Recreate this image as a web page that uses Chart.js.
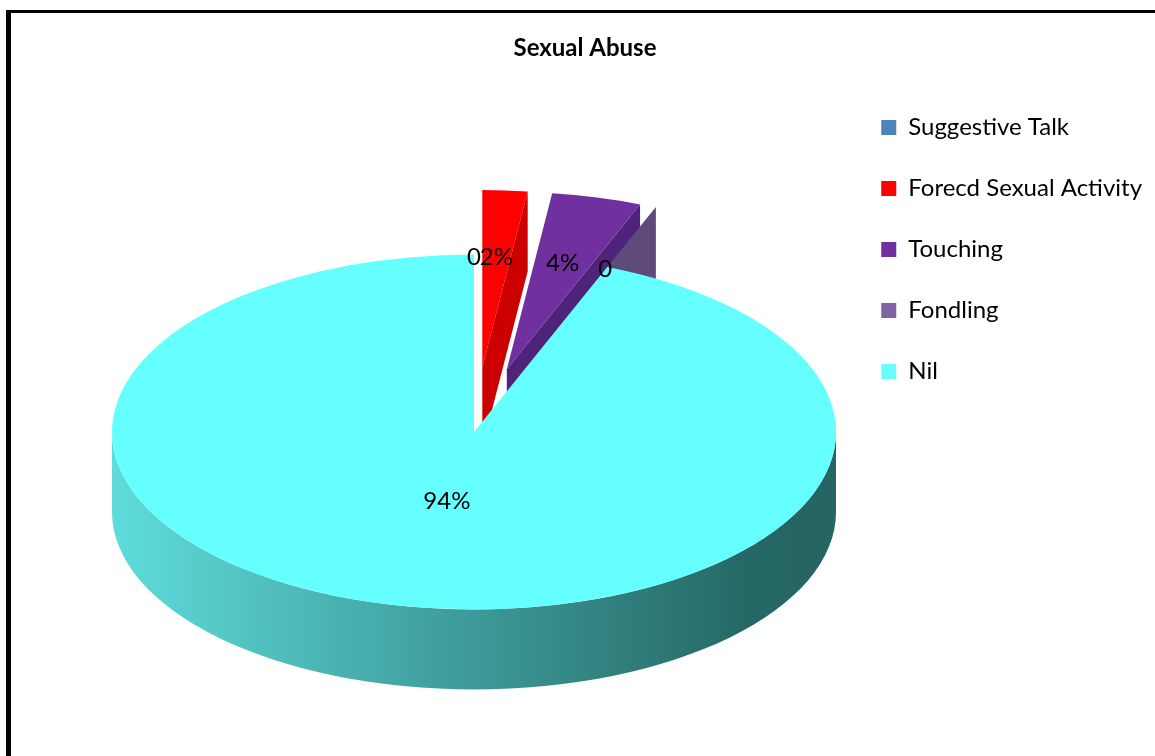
<!DOCTYPE html>
<html>
<head>
<meta charset="utf-8">
<title>Sexual Abuse</title>
<script src="https://cdn.jsdelivr.net/npm/chart.js@4.4.1/dist/chart.umd.min.js"></script>
<style>
  html, body { margin: 0; padding: 0; background: #fff; }
  #wrap { position: relative; width: 1155px; height: 756px; overflow: hidden; }
  #pieChart { position: absolute; left: 0; top: 0; }
  #frame {
    position: absolute; left: 6px; top: 10px; width: 1200px; height: 800px;
    border-left: 5px solid #000; border-top: 3px solid #000; pointer-events: none;
  }
</style>
</head>
<body>
<div id="wrap">
  <canvas id="pieChart" width="1155" height="756"></canvas>
  <div id="frame"></div>
</div>
<script>
// data (percent of respondents)
const categories = ["Suggestive Talk", "Forecd Sexual Activity", "Touching", "Fondling", "Nil"];
const percentages = [0, 2, 4, 0, 94];

// slice colours: top face and cut/side face
const sliceColors = ["#4f81bd", "#ff0000", "#7030a0", "#8064a2", "#66ffff"];
const sideColors = ["#3d6592", "#cc0000", "#4f2379", "#5e4b7c", null];
// how far each slice is pulled out of the pie (px, before tilt)
const explodeBy = [132, 132, 132, 132, 0];

Chart.defaults.font.family = "Lato, 'Open Sans', sans-serif";
Chart.defaults.color = "#000";

function midAngle(arc) {
  return (arc.startAngle + arc.endAngle) / 2;
}

function labelText(i) {
  const total = percentages.reduce((a, b) => a + b, 0);
  const v = percentages[i];
  return v === 0 ? "0" : Math.round((v / total) * 100) + "%";
}

// draws the pie tilted with a visible thickness, then the data labels
const pie3d = {
  id: "pie3d",
  beforeDatasetsDraw(chart, args, opts) {
    const ctx = chart.ctx;
    const dpr = chart.currentDevicePixelRatio || 1;
    const arcs = chart.getDatasetMeta(0).data;
    const explode = chart.data.datasets[0].explode;
    const x0 = arcs[0].x;
    const y0 = arcs[0].y;
    const R = arcs[0].outerRadius;
    const k = opts.tilt;
    const dk = opts.depth / k;

    // back slices first
    const order = arcs.map((a, i) => i).sort(
      (a, b) => Math.sin(midAngle(arcs[a])) - Math.sin(midAngle(arcs[b]))
    );

    const grad = ctx.createLinearGradient(x0 - R, 0, x0 + R, 0);
    grad.addColorStop(0, "#5fdcdc");
    grad.addColorStop(0.45, "#40a09e");
    grad.addColorStop(0.88, "#256866");
    grad.addColorStop(1, "#256563");

    ctx.save();
    ctx.setTransform(dpr, 0, 0, dpr * k, dpr * (opts.centerX - x0), dpr * (opts.centerY - k * y0));

    order.forEach((i) => {
      const arc = arcs[i];
      const m = midAngle(arc);
      const e = explode[i] || 0;
      const cx = x0 + Math.cos(m) * e;
      const cy = y0 + Math.sin(m) * e;
      ctx.fillStyle = sideColors[i] || grad;

      // cut faces that turn towards the viewer
      const faces = [];
      if (Math.cos(arc.endAngle) > 1e-6) faces.push(arc.endAngle);
      if (-Math.cos(arc.startAngle) > 1e-6) faces.push(arc.startAngle);
      faces.forEach((a) => {
        const px = cx + R * Math.cos(a);
        const py = cy + R * Math.sin(a);
        ctx.beginPath();
        ctx.moveTo(cx, cy);
        ctx.lineTo(px, py);
        ctx.lineTo(px, py + dk);
        ctx.lineTo(cx, cy + dk);
        ctx.closePath();
        ctx.fill();
      });

      // front part of the rim
      for (let base = -2 * Math.PI; base <= 2 * Math.PI; base += 2 * Math.PI) {
        const s = Math.max(arc.startAngle, base);
        const en = Math.min(arc.endAngle, base + Math.PI);
        if (en > s) {
          ctx.beginPath();
          ctx.arc(cx, cy, R, s, en);
          ctx.arc(cx, cy + dk, R, en, s, true);
          ctx.closePath();
          ctx.fill();
        }
      }

      // top face, drawn by the arc element itself
      ctx.save();
      ctx.translate(cx - x0, cy - y0);
      arc.draw(ctx);
      ctx.restore();
    });
    ctx.restore();

    // labels
    ctx.save();
    ctx.font = opts.labelFont;
    ctx.fillStyle = "#000";
    ctx.textAlign = "center";
    ctx.textBaseline = "middle";
    arcs.forEach((arc, i) => {
      const m = midAngle(arc);
      const e = explode[i] || 0;
      const r = (arc.circumference > Math.PI ? 0.4 : 0.62) * R;
      const u = Math.cos(m) * (e + r);
      const v = Math.sin(m) * (e + r);
      ctx.fillText(labelText(i), opts.centerX + u, opts.centerY + k * v);
    });
    ctx.restore();

    return false;
  },
};

const pieChart = new Chart(document.getElementById("pieChart").getContext("2d"), {
  type: "pie",
  data: {
    labels: categories,
    datasets: [
      {
        data: percentages,
        backgroundColor: sliceColors,
        borderWidth: 0,
        explode: explodeBy,
      },
    ],
  },
  options: {
    responsive: false,
    animation: false,
    events: [],
    radius: 362,
    layout: { padding: { left: 18, right: 3, top: 0, bottom: 0 } },
    plugins: {
      title: {
        display: true,
        text: "Sexual Abuse",
        font: { size: 24, weight: "bold" },
        color: "#000",
        padding: { top: 34, bottom: 19 },
      },
      legend: {
        position: "right",
        align: "start",
        title: { display: true, text: "", font: { size: 12 }, padding: { top: 0, bottom: 64 } },
        labels: {
          boxWidth: 15,
          boxHeight: 15,
          padding: 37,
          color: "#000",
          font: { size: 24 },
        },
      },
      tooltip: { enabled: false },
      pie3d: {
        centerX: 474,
        centerY: 432,
        tilt: 0.49,
        depth: 80,
        labelFont: "24px Lato, 'Open Sans', sans-serif",
      },
    },
  },
  plugins: [pie3d],
});
</script>
</body>
</html>
